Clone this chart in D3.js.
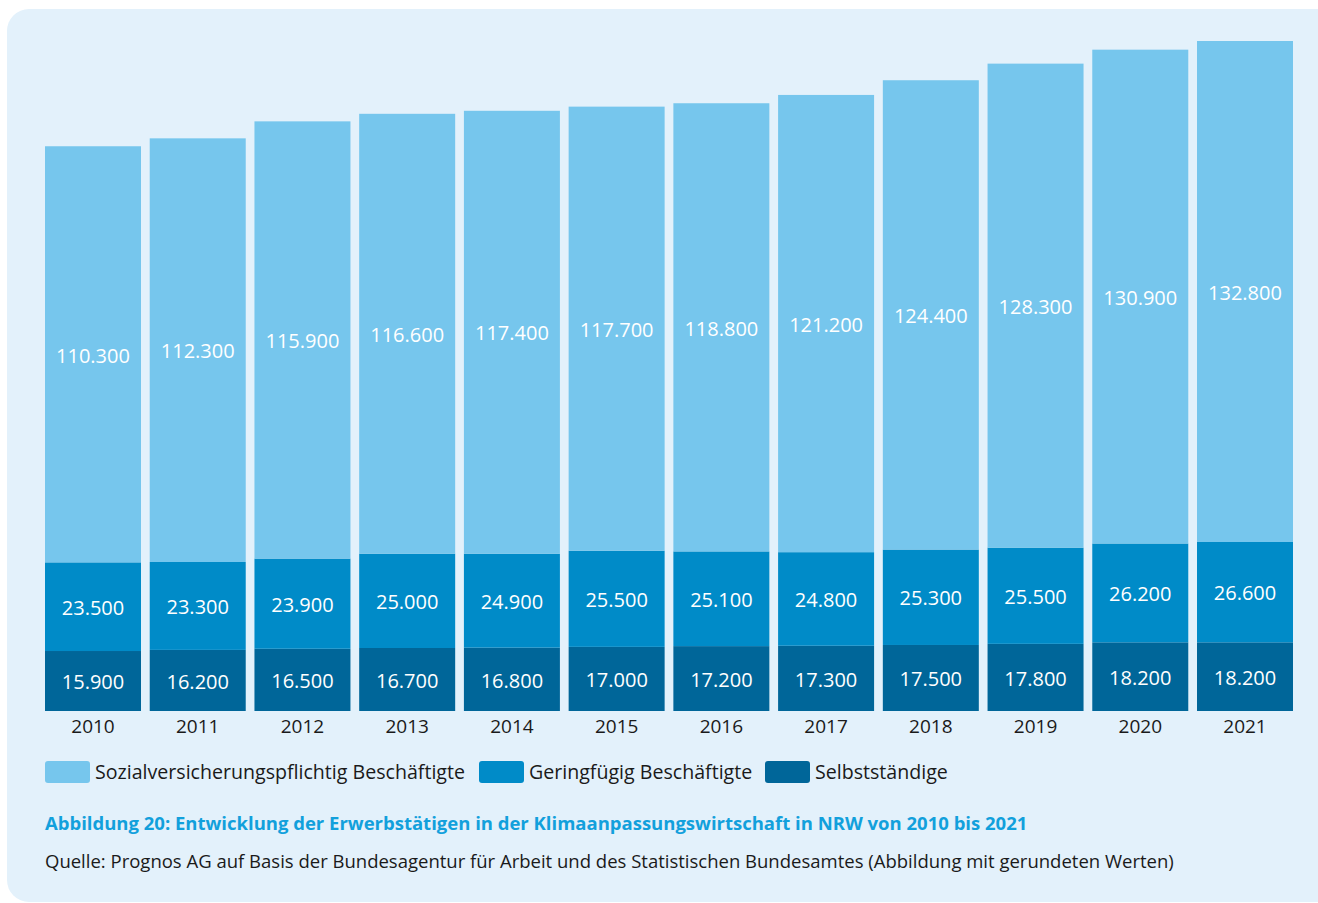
<!DOCTYPE html>
<html>
<head>
<meta charset="utf-8">
<script src="https://cdn.jsdelivr.net/npm/d3@7"></script>
<style>
  body { margin: 0; background: #fff; }
  svg { display: block; font-family: "Open Sans", sans-serif; }
</style>
</head>
<body>
<div class="canvas"></div>
<script>
var years = ["2010","2011","2012","2013","2014","2015","2016","2017","2018","2019","2020","2021"];
var selbststaendige = [15900,16200,16500,16700,16800,17000,17200,17300,17500,17800,18200,18200];
var geringfuegig = [23500,23300,23900,25000,24900,25500,25100,24800,25300,25500,26200,26600];
var sozialversichert = [110300,112300,115900,116600,117400,117700,118800,121200,124400,128300,130900,132800];
var seriesNames = ["Sozialversicherungspflichtig Beschäftigte", "Geringfügig Beschäftigte", "Selbstständige"];
var seriesColors = ["#76c6ed", "#008bc8", "#006699"];

var width = 1318, height = 903;
var svg = d3.select("body div.canvas").append("svg")
  .attr("width", width)
  .attr("height", height);

// panel
svg.append("rect")
  .attr("x", 7).attr("y", 9)
  .attr("width", 1360).attr("height", 893)
  .attr("rx", 22)
  .attr("fill", "#e3f1fb");

// stack bottom-up: selbst, gering, sozial
var rows = years.map(function(y, i) {
  return { year: y, selbst: selbststaendige[i], gering: geringfuegig[i], sozial: sozialversichert[i] };
});
var keys = ["selbst", "gering", "sozial"];
var keyColor = { selbst: seriesColors[2], gering: seriesColors[1], sozial: seriesColors[0] };
var stacked = d3.stack().keys(keys)(rows);

var x = d3.scaleBand().domain(years).range([45, 1293]).paddingInner(0.0834).paddingOuter(0);

var maxTotal = d3.max(rows, function(d) { return d.selbst + d.gering + d.sozial; });
var y = d3.scaleLinear().domain([0, maxTotal]).range([711, 41]);

var fmt = function(v) { return d3.format(",")(v).replace(/,/g, "."); };

stacked.forEach(function(layer) {
  var g = svg.append("g");
  g.selectAll("rect").data(layer).enter().append("rect")
    .attr("x", function(d) { return x(d.data.year); })
    .attr("y", function(d) { return y(d[1]); })
    .attr("width", x.bandwidth())
    .attr("height", function(d) { return y(d[0]) - y(d[1]); })
    .attr("fill", keyColor[layer.key]);
  g.selectAll("text").data(layer).enter().append("text")
    .attr("x", function(d) { return x(d.data.year) + x.bandwidth() / 2; })
    .attr("y", function(d) { return (y(d[0]) + y(d[1])) / 2 + 1; })
    .attr("dy", "0.36em")
    .attr("text-anchor", "middle")
    .style("font-size", "20px")
    .style("font-weight", 400)
    .style("fill", "#ffffff")
    .text(function(d) { return fmt(d.data[layer.key]); });
});

// year labels
var xAxis = svg.append("g")
  .attr("transform", "translate(0,711)")
  .call(d3.axisBottom(x).tickSize(0).tickPadding(9));
xAxis.select(".domain").remove();
xAxis.selectAll("text")
  .style("font-family", "Open Sans, sans-serif")
  .style("font-size", "19px")
  .style("fill", "#1a1a1a");

// legend
var legendX = [45, 479, 765];
seriesNames.forEach(function(name, i) {
  svg.append("rect")
    .attr("x", legendX[i]).attr("y", 761)
    .attr("width", 45).attr("height", 22)
    .attr("rx", 3)
    .attr("fill", seriesColors[i]);
  svg.append("text")
    .attr("x", legendX[i] + 50).attr("y", 779)
    .style("font-size", "19.6px")
    .style("fill", "#1a1a1a")
    .text(name);
});

svg.append("text")
  .attr("x", 45).attr("y", 830)
  .style("font-size", "18.5px")
  .style("font-weight", 700)
  .style("fill", "#12a0dc")
  .text("Abbildung 20: Entwicklung der Erwerbstätigen in der Klimaanpassungswirtschaft in NRW von 2010 bis 2021");

svg.append("text")
  .attr("x", 45).attr("y", 868)
  .style("font-size", "18.5px")
  .style("fill", "#1a1a1a")
  .text("Quelle: Prognos AG auf Basis der Bundesagentur für Arbeit und des Statistischen Bundesamtes (Abbildung mit gerundeten Werten)");
</script>
</body>
</html>
